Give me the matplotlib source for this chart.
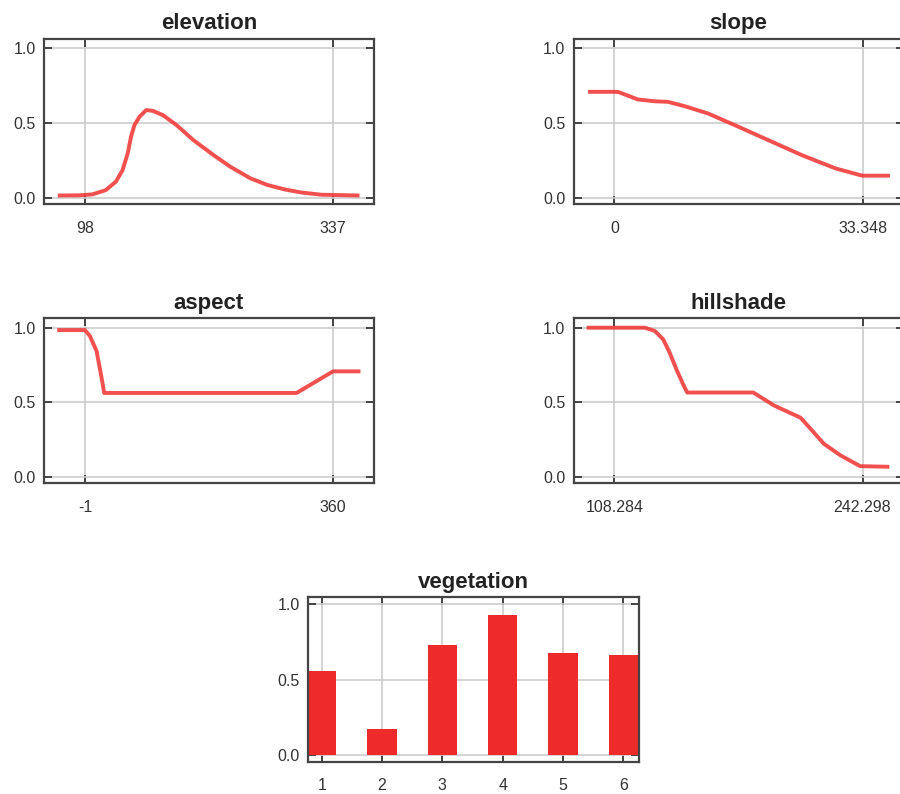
import numpy as np
import matplotlib
matplotlib.use("Agg")
import matplotlib.pyplot as plt

plt.rcParams['font.family'] = ['Liberation Sans', 'DejaVu Sans']

# elevation curve
elev_x = [73.7, 92.2, 105.1, 118.1, 127.8, 134.3, 139.2, 142.4, 145.7, 150.5, 157, 163.5, 173.2, 186.2,
          202.4, 221.8, 238, 257.5, 273.8, 289.9, 306.2, 325.6, 360.6]
elev_y = [0.015, 0.016, 0.022, 0.051, 0.107, 0.185, 0.296, 0.407, 0.485, 0.54, 0.585, 0.58, 0.551, 0.485,
          0.385, 0.285, 0.207, 0.129, 0.085, 0.056, 0.035, 0.02, 0.015]
elev_ticks = [98, 337]

# slope curve
slope_x = [-3.28, 0.45, 3.15, 5.39, 7.2, 9.45, 12.6, 16.2, 20.7, 25.2, 29.7, 33.3, 36.76]
slope_y = [0.707, 0.707, 0.656, 0.644, 0.64, 0.611, 0.562, 0.484, 0.384, 0.284, 0.196, 0.147, 0.147]
slope_ticks = [0, 33.348]

# aspect curve
aspect_x = [-38.5, -1, 6.2, 15.9, 23.1, 27, 306.9, 360, 397]
aspect_y = [0.984, 0.984, 0.944, 0.844, 0.667, 0.562, 0.562, 0.707, 0.707]
aspect_ticks = [-1, 360]

# hillshade curve
hill_x = [94.3, 124.7, 130.1, 134.6, 138.1, 141.7, 145.3, 147.6, 183.3, 194.5, 208.8, 214.2, 221.3,
          230.3, 241, 255.7]
hill_y = [1.0, 1.0, 0.978, 0.922, 0.833, 0.722, 0.622, 0.565, 0.565, 0.478, 0.396, 0.322, 0.222,
          0.144, 0.071, 0.067]
hill_ticks = [108.284, 242.298]

# vegetation bars
veg_cat = [1, 2, 3, 4, 5, 6]
veg_val = [0.56, 0.173, 0.73, 0.929, 0.675, 0.664]

W, H = 900, 794
fig = plt.figure(figsize=(W/100, H/100), dpi=100)

def box(left, top, right, bottom):
    return [left/W, 1-bottom/H, (right-left)/W, (bottom-top)/H]

def style(ax, title, xticks, xlabels):
    ax.set_title(title, fontsize=16, fontweight='bold', color='#222222', pad=7)
    ax.set_xticks(xticks)
    ax.set_xticklabels(xlabels)
    ax.set_yticks([0, 0.5, 1.0])
    ax.set_yticklabels(['0.0', '0.5', '1.0'])
    ax.grid(True, color='#cccccc', lw=1.2)
    ax.set_axisbelow(True)
    for s in ax.spines.values():
        s.set_color('#444444')
        s.set_linewidth(1.6)
    ax.tick_params(direction='in', length=6, width=1.4, color='#444444',
                   top=True, right=True, labelsize=11.5, labelcolor='#333333')
    ax.tick_params(axis='y', pad=6)
    ax.tick_params(axis='x', pad=12)

def line_panel(rect, title, x, y, ticks, labels):
    ax = fig.add_axes(rect)
    ax.plot(x, y, color='#f03030', lw=2.8, alpha=0.85, solid_joinstyle='round')
    rng = ticks[1] - ticks[0]
    ax.set_xlim(ticks[0] - 0.165*rng, ticks[1] + 0.165*rng)
    ax.set_ylim(-0.042, 1.063)
    style(ax, title, ticks, labels)
    return ax

line_panel(box(44, 38.5, 374, 204), 'elevation', elev_x, elev_y, elev_ticks, ['98', '337'])
line_panel(box(573.5, 38.5, 903.5, 204), 'slope', slope_x, slope_y, slope_ticks, ['0', '33.348'])
line_panel(box(44, 318.3, 374, 483), 'aspect', aspect_x, aspect_y, aspect_ticks, ['-1', '360'])
line_panel(box(573.5, 318.3, 903.5, 483), 'hillshade', hill_x, hill_y, hill_ticks, ['108.284', '242.298'])

ax = fig.add_axes(box(308.3, 597.3, 639.3, 761.7))
ax.bar(veg_cat, veg_val, width=0.49, color='#ee2a2a')
ax.set_xlim(0.778, 6.265)
ax.set_ylim(-0.045, 1.046)
style(ax, 'vegetation', veg_cat, [str(c) for c in veg_cat])

fig.savefig('out.png', dpi=100)
